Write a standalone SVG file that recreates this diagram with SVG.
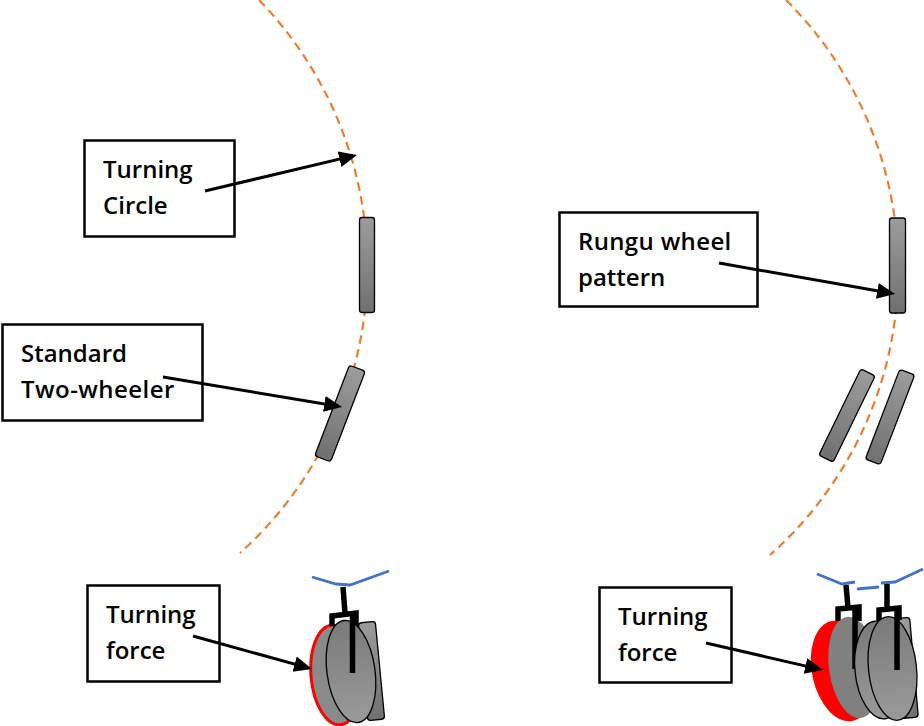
<svg xmlns="http://www.w3.org/2000/svg" width="924" height="726" viewBox="0 0 924 726">
<style>
.box{fill:#fff;stroke:#000;stroke-width:2.5}
.lbl{font-family:"Open Sans","Liberation Sans",sans-serif;font-size:24px;font-weight:600;fill:#000}
.arc{fill:none;stroke:#ed7d31;stroke-width:2.200;stroke-dasharray:8.500 5.500}
.arr{fill:none;stroke:#000;stroke-width:3;marker-end:url(#ah)}
.wheel{fill:url(#g);stroke:#000;stroke-width:1.300}
.disc{fill:url(#g2);stroke:#000;stroke-width:1.300}
.fork{fill:none;stroke:#000;stroke-width:5.500}
.bar{fill:none;stroke:#4472c4;stroke-width:2.800}
</style>
<defs>
<linearGradient id="g" x1="0" y1="0" x2="0" y2="1"><stop offset="0" stop-color="#9c9c9c"/><stop offset="1" stop-color="#707070"/></linearGradient>
<linearGradient id="g2" x1="0" y1="0" x2="0" y2="1"><stop offset="0" stop-color="#7a7a7a"/><stop offset="1" stop-color="#9a9a9a"/></linearGradient>
<marker id="ah" markerUnits="userSpaceOnUse" markerWidth="20" markerHeight="18" refX="14" refY="8" orient="auto"><path d="M0 0L18 8L0 16Z" fill="#000"/></marker>
</defs>
<g id="circles">
<path class="arc" d="M259 0A384 384 0 0 1 240 553"/>
<path class="arc" d="M786 0A381 381 0 0 1 770 555"/>
</g>
<g id="wheel-left-1"><rect class="wheel" x="359.500" y="217.500" width="15" height="95" rx="2.500"/></g>
<g id="wheel-left-2"><rect class="wheel" x="331.500" y="365" width="17" height="97" rx="3" transform="rotate(21 340 413.500)"/></g>
<g id="wheel-right-1"><rect class="wheel" x="889.500" y="218" width="16" height="95" rx="2.500"/></g>
<g id="wheel-right-2"><rect class="wheel" x="839" y="367.500" width="16" height="96" rx="3" transform="rotate(26 847 415.500)"/></g>
<g id="wheel-right-3"><rect class="wheel" x="882" y="369" width="16" height="96" rx="3" transform="rotate(21 890 417)"/></g>
<g id="bike-left">
<rect class="wheel" x="363" y="622" width="17" height="98" rx="3" transform="rotate(-5.500 371.500 671)"/>
<ellipse cx="336" cy="675" rx="25" ry="50" fill="#8a8a8a" stroke="#f00" stroke-width="3" transform="rotate(-5 336 675)"/>
<path class="bar" d="M312 577L336 584L350 585L389 571"/>
<path class="fork" d="M343 587L345 613M332 626V616L356 613V626"/>
<ellipse class="disc" cx="351" cy="671.500" rx="24" ry="51.500" transform="rotate(-8 351 671.500)"/>
<path class="fork" d="M352.500 612V673"/>
</g>
<g id="bike-right">
<rect class="wheel" x="897" y="618" width="17" height="100" rx="3" transform="rotate(-5 905 668)"/>
<ellipse cx="842" cy="671" rx="30" ry="51" fill="#f00" transform="rotate(-12 842 671)"/>
<path class="bar" d="M817 574L842 584L855 582M857 589L879 587M881 583L895 582L923 569"/>
<path class="fork" d="M846 585L848 608M838 621V609L859 607V621M887 584V608M879 621V610L899 608V620"/>
<ellipse cx="854" cy="667.500" rx="25" ry="51" fill="#808080" transform="rotate(-8 854 667.500)"/>
<path class="fork" d="M855 607V669"/>
<ellipse class="disc" cx="880" cy="670" rx="25" ry="49" transform="rotate(-6 880 670)"/>
<ellipse class="disc" cx="892.500" cy="668.500" rx="24" ry="52" transform="rotate(-6 892.500 668.500)"/>
<path class="fork" d="M897 608V670"/>
</g>
<g id="label-turning-circle"><rect class="box" x="84.500" y="140.500" width="150" height="96"/><text class="lbl"><tspan x="103" y="178">Turning</tspan><tspan x="103" y="214">Circle</tspan></text></g>
<g id="label-standard"><rect class="box" x="2.500" y="324.500" width="200" height="96"/><text class="lbl"><tspan x="21" y="362">Standard</tspan><tspan x="21" y="398" letter-spacing="0.450">Two-wheeler</tspan></text></g>
<g id="label-rungu"><rect class="box" x="559.500" y="212.500" width="198" height="94"/><text class="lbl"><tspan x="578" y="250" letter-spacing="0.350">Rungu wheel</tspan><tspan x="578" y="286">pattern</tspan></text></g>
<g id="label-force-left"><rect class="box" x="87.500" y="585.500" width="132" height="96"/><text class="lbl"><tspan x="106" y="623">Turning</tspan><tspan x="106" y="659">force</tspan></text></g>
<g id="label-force-right"><rect class="box" x="599.500" y="587.500" width="132" height="95"/><text class="lbl"><tspan x="618" y="625">Turning</tspan><tspan x="618" y="661">force</tspan></text></g>
<g id="connectors">
<path class="arr" d="M205 191L353.100 155.900"/>
<path class="arr" d="M163 377L338.100 406.300"/>
<path class="arr" d="M719 263L891.100 293.300"/>
<path class="arr" d="M193 636L308.100 667.900"/>
<path class="arr" d="M706 643L819.100 669.100"/>
</g>
</svg>
